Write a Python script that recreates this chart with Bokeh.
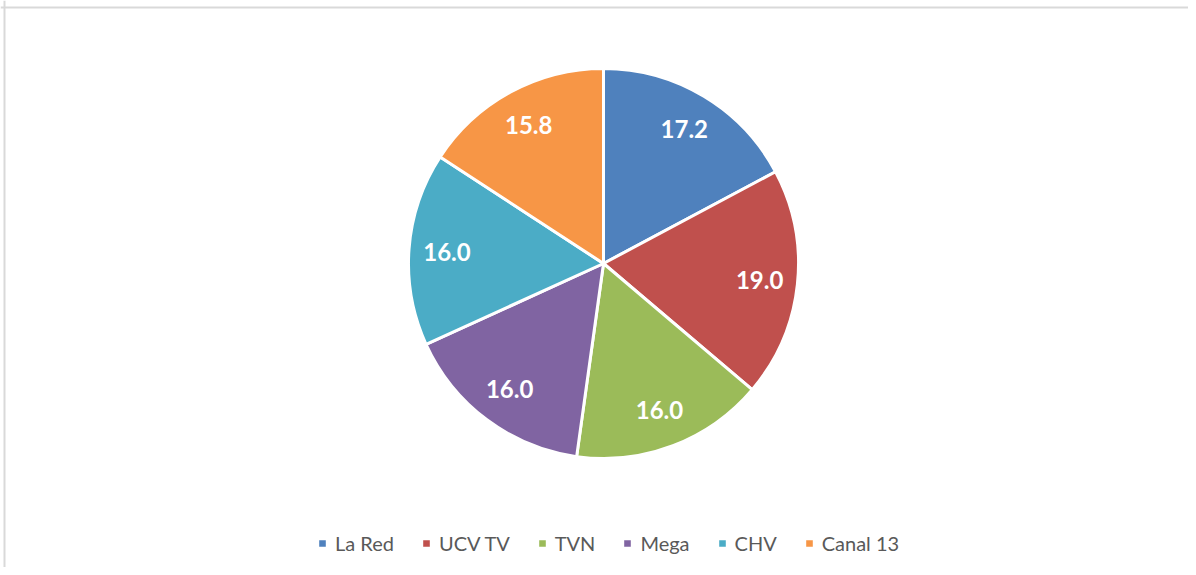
import math
from bokeh.plotting import figure
from bokeh.models import ColumnDataSource, Range1d, Span, Legend, LegendItem
from bokeh.core.properties import value
from bokeh.embed import file_html
from bokeh.resources import INLINE

# ---- data ----
channels = ["La Red", "UCV TV", "TVN", "Mega", "CHV", "Canal 13"]
shares = [17.2, 19.0, 16.0, 16.0, 16.0, 15.8]
colors = ["#4F81BD", "#C0504D", "#9BBB59", "#8064A2", "#4BACC6", "#F79646"]

# ---- layout ----
W, H = 1188, 567
cx, cy = 603, 304
R = 195
label_r = 157

total = sum(shares)
starts, ends, lx, ly, txt = [], [], [], [], []
cum = 0.0
for v in shares:
    a0 = math.pi / 2 - 2 * math.pi * cum / total
    cum += v
    a1 = math.pi / 2 - 2 * math.pi * cum / total
    starts.append(a0)
    ends.append(a1)
    am = (a0 + a1) / 2
    lx.append(cx + label_r * math.cos(am))
    ly.append(cy + label_r * math.sin(am))
    txt.append(f"{v:.1f}")

src = ColumnDataSource(dict(name=channels, start=starts, end=ends, color=colors,
                            lx=lx, ly=ly, txt=txt))

p = figure(width=W, height=H, output_backend="svg", toolbar_location=None,
           x_range=Range1d(0, W), y_range=Range1d(0, H), min_border=0,
           match_aspect=False)
p.axis.visible = False
p.grid.visible = False
p.outline_line_color = None
p.background_fill_color = "white"
p.border_fill_color = "white"

r = p.wedge(x=cx, y=cy, radius=R, start_angle="start", end_angle="end",
            direction="clock", fill_color="color", line_color="white",
            line_width=3, source=src)

p.text(x="lx", y="ly", text="txt", source=src, text_color="white",
       text_font=value("Lato"), text_font_style="bold", text_font_size="24px",
       text_align="center", text_baseline="middle")

# chart area border (left / top visible)
p.add_layout(Span(location=4, dimension="height", line_color="#d9d9d9", line_width=2))
p.add_layout(Span(location=H - 7, dimension="width", line_color="#d9d9d9", line_width=2))

items = [LegendItem(label=channels[i], renderers=[r], index=i) for i in range(len(channels))]
legend = Legend(items=items, orientation="horizontal", location=(316, 12),
                glyph_width=12, glyph_height=12, label_standoff=7, spacing=26,
                padding=0, margin=0, border_line_color=None,
                background_fill_alpha=0,
                label_text_font="Lato", label_text_font_size="20px",
                label_text_color="#595959")
p.add_layout(legend, "center")

open("out.html", "w").write(file_html(p, INLINE))
